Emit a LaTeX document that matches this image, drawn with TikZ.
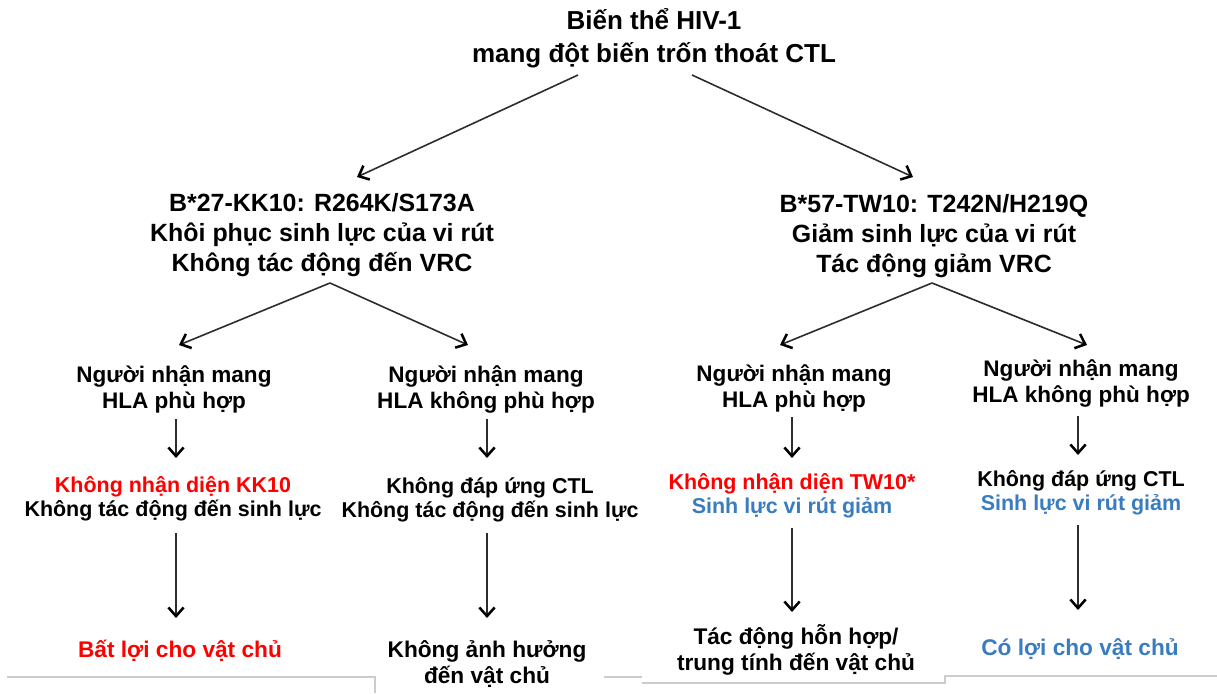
\documentclass[tikz,border=0pt]{standalone}
\usepackage{fontspec}
\setmainfont{Liberation Sans}
\usetikzlibrary{arrows.meta,calc}
\definecolor{hred}{RGB}{255,0,0}
\definecolor{hblue}{RGB}{58,124,192}
\definecolor{edge}{RGB}{45,45,45}

\begin{document}
\begin{tikzpicture}[x=0.75pt,y=-0.75pt,
  every node/.style={inner sep=0pt,align=center},
  ttl/.style={font=\fontsize{19.5}{24.75}\selectfont\bfseries},
  lvl1/.style={font=\fontsize{18.7}{22.5}\selectfont\bfseries},
  lvl2/.style={font=\fontsize{16.9}{19.5}\selectfont\bfseries},
  lvl3/.style={font=\fontsize{16.1}{18}\selectfont\bfseries},
  lvl4/.style={font=\fontsize{17}{19.5}\selectfont\bfseries},
  arr/.style={draw=edge,line width=1.2pt,
    -{Straight Barb[length=6.5pt,width=11.5pt,line width=1.9pt,color=black]}},
  frame/.style={draw=black!20,line width=0.8pt}]

\useasboundingbox (0,0) rectangle (1217,693);

% root
\node[ttl] (root) at (654,38.5) {Biến thể HIV-1\\mang đột biến trốn thoát CTL};

% two variants
\node[lvl1] (kk) at (322,235) {B*27-KK10: R264K/S173A\\Khôi phục sinh lực của vi rút\\Không tác động đến VRC};
\node[lvl1] (tw) at (934,236) {B*57-TW10: T242N/H219Q\\Giảm sinh lực của vi rút\\Tác động giảm VRC};

% recipients
\node[lvl2] (kkm) at (174,389) {Người nhận mang\\HLA phù hợp};
\node[lvl2] (kkn) at (486,389) {Người nhận mang\\HLA không phù hợp};
\node[lvl2] (twm) at (794,388) {Người nhận mang\\HLA phù hợp};
\node[lvl2] (twn) at (1081,383) {Người nhận mang\\HLA không phù hợp};

% immune response
\node[lvl3] (kkm2) at (173,499) {\textcolor{hred}{Không nhận diện KK10}\\Không tác động đến sinh lực};
\node[lvl3] (kkn2) at (490,500) {Không đáp ứng CTL\\Không tác động đến sinh lực};
\node[lvl3] (twm2) at (792,496) {\textcolor{hred}{Không nhận diện TW10*}\\\textcolor{hblue}{Sinh lực vi rút giảm}};
\node[lvl3] (twn2) at (1081,493) {Không đáp ứng CTL\\\textcolor{hblue}{Sinh lực vi rút giảm}};

% outcome for the host
\node[lvl4,text=hred] (kkm3) at (180,651) {Bất lợi cho vật chủ};
\node[lvl4] (kkn3) at (487,664) {Không ảnh hưởng\\đến vật chủ};
\node[lvl4] (twm3) at (796,650) {Tác động hỗn hợp/\\trung tính đến vật chủ};
\node[lvl4,text=hblue] (twn3) at (1080,649) {Có lợi cho vật chủ};

% connectors
\draw[arr] ($(root)+(-76,36.5)$) -- ($(kk)+(35,-58)$);
\draw[arr] ($(root)+(38,36.5)$) -- ($(tw)+(-21,-59)$);

\draw[arr] ($(kk)+(8,48)$) -- ($(kkm)+(5,-44)$);
\draw[arr] ($(kk)+(8,48)$) -- ($(kkn)+(-18,-44)$);
\draw[arr] ($(tw)+(-2,47)$) -- ($(twm)+(-14,-43)$);
\draw[arr] ($(tw)+(-2,47)$) -- ($(twn)+(6,-38)$);

\draw[arr] ($(kkm)+(2,30)$) -- ($(kkm2)+(3,-41)$);
\draw[arr] ($(kkn)+(1,30)$) -- ($(kkn2)+(-3,-42)$);
\draw[arr] ($(twm)+(-2,29)$) -- ($(twm2)+(0,-38)$);
\draw[arr] ($(twn)+(-3,33)$) -- ($(twn2)+(-3,-38)$);

\draw[arr] ($(kkm2)+(3,34)$) -- ($(kkm3)+(-4,-33)$);
\draw[arr] ($(kkn2)+(-3,33)$) -- ($(kkn3)+(0,-46)$);
\draw[arr] ($(twm2)+(0,32)$) -- ($(twm3)+(-4,-38)$);
\draw[arr] ($(twn2)+(-3,32)$) -- ($(twn3)+(-2,-39)$);

% faint frame edges along the bottom
\draw[frame] (7,677) -- (375,677) -- (375,693);
\draw[frame] (604,677) -- (642,677);
\draw[frame] (642,683) -- (945,683) -- (945,676) -- (1217,676);
\end{tikzpicture}
\end{document}
